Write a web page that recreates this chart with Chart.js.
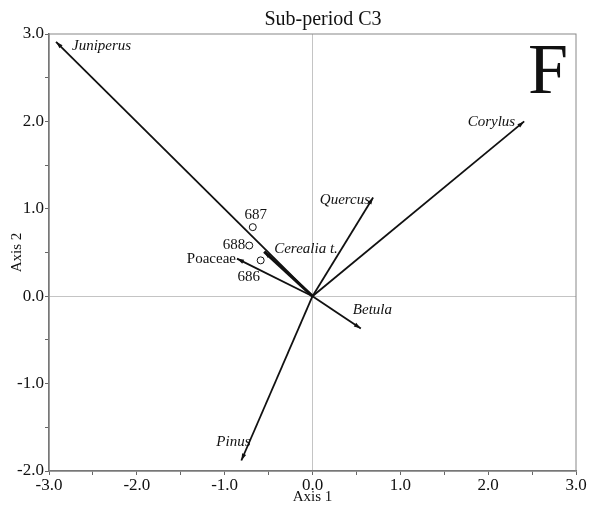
<!DOCTYPE html>
<html>
<head>
<meta charset="utf-8">
<script src="https://cdn.jsdelivr.net/npm/chart.js@4"></script>
<style>
  html, body { margin: 0; padding: 0; background: #fff; }
  canvas { display: block; }
</style>
</head>
<body>
<canvas id="biplot" width="592" height="506"></canvas>
<script>
// Species arrows (ordination scores)
const species = ['Juniperus', 'Corylus', 'Quercus', 'Cerealia t.', 'Poaceae', 'Betula', 'Pinus'];
const speciesAxis1 = [-2.92, 2.41, 0.69, -0.55, -0.86, 0.55, -0.81];
const speciesAxis2 = [2.91, 2.00, 1.13, 0.51, 0.43, -0.37, -1.88];

// Samples
const samples = ['686', '687', '688'];
const sampleAxis1 = [-0.59, -0.68, -0.72];
const sampleAxis2 = [0.41, 0.79, 0.58];

// Axis ranges
const xRange = [-3, 3];
const yRange = [-2, 3];

const serif = '"Liberation Serif", "DejaVu Serif", serif';

// label placement relative to arrow tips / sample points (pixels)
const speciesLabelPos = {
    'Juniperus': { dx: 16, dy: 4, align: 'left' },
    'Corylus': { dx: -9, dy: 1, align: 'right' },
    'Quercus': { dx: -3, dy: 3, align: 'right' },
    'Cerealia t.': { dx: 10, dy: -3, align: 'left' },
    'Poaceae': { dx: -1, dy: 0, align: 'right', upright: true },
    'Betula': { dx: -8, dy: -18, align: 'left' },
    'Pinus': { dx: -25, dy: -18, align: 'left' }
};
const sampleLabelPos = {
    '686': { dx: -12, dy: 17, align: 'center' },
    '687': { dx: 3, dy: -12, align: 'center' },
    '688': { dx: -4, dy: 0, align: 'right' }
};

const datasets = species.map((name, i) => ({
    label: name,
    data: [{ x: 0, y: 0 }, { x: speciesAxis1[i], y: speciesAxis2[i] }],
    showLine: true,
    borderColor: '#111',
    borderWidth: name === 'Cerealia t.' ? 3 : 1.8,
    pointRadius: 0
}));
datasets.push({
    label: 'samples',
    data: samples.map((s, i) => ({ x: sampleAxis1[i], y: sampleAxis2[i] })),
    showLine: false,
    pointStyle: 'circle',
    pointRadius: 3.5,
    pointBackgroundColor: '#fff',
    pointBorderColor: '#111',
    pointBorderWidth: 1
});

// Frame, titles, arrowheads and labels
const decorations = {
    id: 'decorations',
    beforeDatasetsDraw(chart) {
        const { ctx, chartArea: a } = chart;
        ctx.save();
        ctx.strokeStyle = '#888';
        ctx.lineWidth = 1;
        ctx.strokeRect(a.left, a.top, a.right - a.left, a.bottom - a.top);
        ctx.restore();
    },
    afterDatasetsDraw(chart) {
        const { ctx, scales: { x, y } } = chart;
        ctx.save();

        // arrowheads
        species.forEach((name, i) => {
            const px = x.getPixelForValue(speciesAxis1[i]);
            const py = y.getPixelForValue(speciesAxis2[i]);
            const ox = x.getPixelForValue(0);
            const oy = y.getPixelForValue(0);
            const ang = Math.atan2(py - oy, px - ox);
            const len = 7, half = 2.2;
            ctx.beginPath();
            ctx.moveTo(px, py);
            ctx.lineTo(px - len * Math.cos(ang) + half * Math.sin(ang), py - len * Math.sin(ang) - half * Math.cos(ang));
            ctx.lineTo(px - len * Math.cos(ang) - half * Math.sin(ang), py - len * Math.sin(ang) + half * Math.cos(ang));
            ctx.closePath();
            ctx.fillStyle = '#111';
            ctx.fill();
        });

        // species labels
        ctx.fillStyle = '#111';
        ctx.textBaseline = 'middle';
        species.forEach((name, i) => {
            const p = speciesLabelPos[name];
            ctx.font = (p.upright ? '' : 'italic ') + '15px ' + serif;
            ctx.textAlign = p.align;
            ctx.fillText(name,
                x.getPixelForValue(speciesAxis1[i]) + p.dx,
                y.getPixelForValue(speciesAxis2[i]) + p.dy);
        });

        // sample labels
        ctx.font = '15px ' + serif;
        samples.forEach((s, i) => {
            const p = sampleLabelPos[s];
            ctx.textAlign = p.align;
            ctx.fillText(s,
                x.getPixelForValue(sampleAxis1[i]) + p.dx,
                y.getPixelForValue(sampleAxis2[i]) + p.dy);
        });

        // title and panel letter
        ctx.textAlign = 'center';
        ctx.font = '20px ' + serif;
        ctx.fillText('Sub-period C3', 323, 20);
        ctx.textBaseline = 'alphabetic';
        ctx.font = '72px ' + serif;
        ctx.fillText('F', 548, 93);
        ctx.restore();
    }
};

const tickLabel = (v) => (Math.abs(v % 1) < 1e-9 ? v.toFixed(1) : '');
const zeroGrid = (c) => (c.tick && c.tick.value === 0 ? '#c4c4c4' : 'rgba(0,0,0,0)');

new Chart(document.getElementById('biplot'), {
    type: 'scatter',
    data: { datasets },
    options: {
        responsive: false,
        animation: false,
        layout: { padding: { top: 34, right: 16, left: 0, bottom: 0 } },
        plugins: { legend: { display: false }, tooltip: { enabled: false } },
        scales: {
            x: {
                type: 'linear',
                min: xRange[0],
                max: xRange[1],
                afterFit: (s) => { s.height = 35; },
                border: { color: '#666', width: 1.5 },
                grid: { color: zeroGrid, tickColor: '#666', tickLength: 4, lineWidth: 1 },
                ticks: { stepSize: 0.5, padding: 0, maxRotation: 0, autoSkip: false, color: '#111', font: { family: serif, size: 17 }, callback: tickLabel },
                title: { display: true, text: 'Axis 1', color: '#111', padding: { top: 0, bottom: 0 }, font: { family: serif, size: 15 } }
            },
            y: {
                type: 'linear',
                min: yRange[0],
                max: yRange[1],
                afterFit: (s) => { s.width = 49; },
                border: { color: '#666', width: 1.5 },
                grid: { color: zeroGrid, tickColor: '#666', tickLength: 4, lineWidth: 1 },
                ticks: { stepSize: 0.5, padding: 1, autoSkip: false, color: '#111', font: { family: serif, size: 17 }, callback: tickLabel },
                title: { display: true, text: 'Axis 2', color: '#111', padding: { top: 8, bottom: 0 }, font: { family: serif, size: 15 } }
            }
        }
    },
    plugins: [decorations]
});
</script>
</body>
</html>
